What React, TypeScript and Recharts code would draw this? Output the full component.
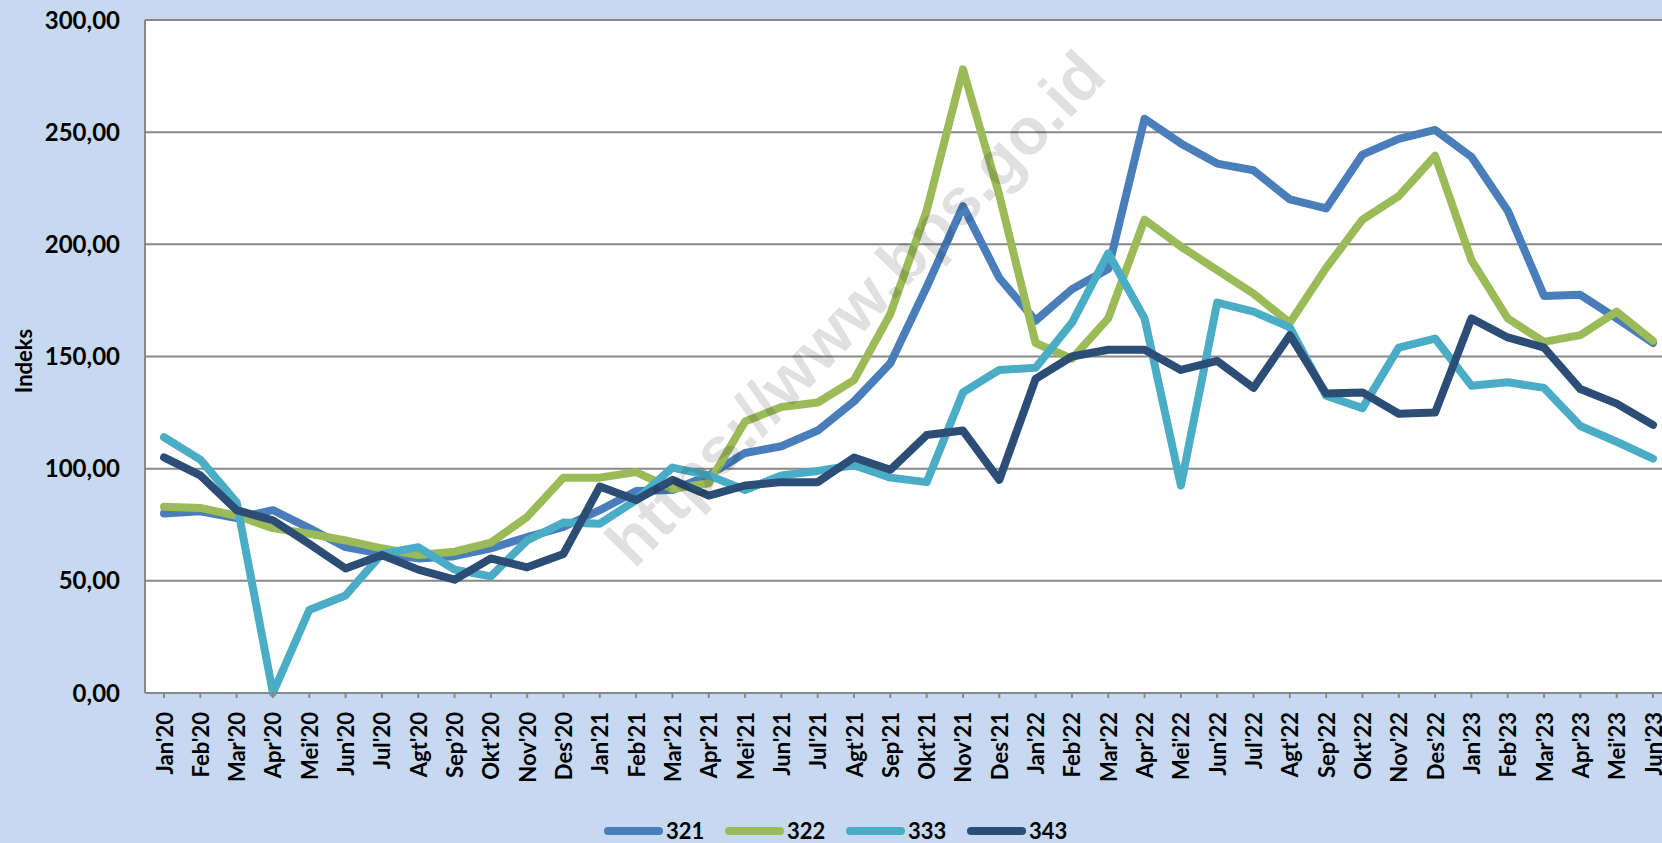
import React from 'react';
import { LineChart, Line, XAxis, YAxis, CartesianGrid } from 'recharts';

const months = [
  "Jan'20", "Feb'20", "Mar'20", "Apr'20", "Mei'20", "Jun'20", "Jul'20", "Agt'20", "Sep'20", "Okt'20", "Nov'20", "Des'20",
  "Jan'21", "Feb'21", "Mar'21", "Apr'21", "Mei'21", "Jun'21", "Jul'21", "Agt'21", "Sep'21", "Okt'21", "Nov'21", "Des'21",
  "Jan'22", "Feb'22", "Mar'22", "Apr'22", "Mei'22", "Jun'22", "Jul'22", "Agt'22", "Sep'22", "Okt'22", "Nov'22", "Des'22",
  "Jan'23", "Feb'23", "Mar'23", "Apr'23", "Mei'23", "Jun'23",
];

const s321 = [80, 81, 78, 81.5, 73.5, 65, 62, 60, 61, 64.5, 69.5, 74, 81.5, 90, 90.5, 97, 107, 110, 117, 130, 147, 181, 217, 185, 166, 180, 189, 256, 245, 236, 233, 220, 216, 240, 247, 251, 239, 215, 177, 177.5, 167, 156];
const s322 = [83, 82.5, 79, 73.5, 71, 68, 64.5, 61.5, 63, 67, 78.5, 96, 96, 98.5, 91, 93.5, 121, 127.5, 129.5, 139.5, 169, 215, 278, 222, 156, 149, 167, 211, 199, 188.5, 178, 165, 189.5, 211, 221.5, 239.5, 193, 167, 156.5, 159.5, 170, 157];
const s333 = [114, 104, 85, 0, 37, 43.5, 62, 65, 55, 52, 68, 76, 75.5, 86, 100.5, 97, 90.5, 97, 99, 101.5, 96, 94, 134, 144, 145, 165, 196, 167, 92.5, 174, 170, 163, 132.5, 127, 154, 158, 137, 138.5, 136, 119, 112, 104.5];
const s343 = [105, 97, 81.5, 77, 66.5, 55.5, 61.5, 55, 50.5, 60, 56, 62, 92, 86, 95, 88, 92.5, 94, 94, 105, 99.5, 115, 117, 95, 140, 150, 153, 153, 144, 148, 136, 159.5, 133.5, 134, 124.5, 125, 167, 158.5, 154, 135.5, 129, 119.5];

const yTicks = [0, 50, 100, 150, 200, 250, 300];

const seriesNames = ['321', '322', '333', '343'];
const seriesColors = ['#4A7EBB', '#9BBB59', '#4BACC6', '#2C4D75'];
const seriesValues = [s321, s322, s333, s343];

const data = months.map((m, i) => {
  const row: Record<string, string | number> = { month: m };
  seriesNames.forEach((n, k) => {
    row[n] = seriesValues[k][i];
  });
  return row;
});

const FONT = 'Lato, "Open Sans", sans-serif';

const XTick = (props: any) => {
  const { x, y, payload } = props;
  return (
    <text
      x={x}
      y={y}
      transform={`rotate(-90, ${x}, ${y})`}
      textAnchor="end"
      dominantBaseline="central"
      fill="#000"
      fontSize={22}
      fontWeight={700}
      fontFamily={FONT}
    >
      {payload.value}
    </text>
  );
};

const fmt = (v: number) => v.toFixed(2).replace('.', ',');

export default function App() {
  return (
    <div
      style={{
        position: 'absolute',
        left: 0,
        top: 0,
        width: 1662,
        height: 843,
        overflow: 'hidden',
        background: '#C6D9F0',
      }}
    >
      <LineChart
        width={1680}
        height={843}
        data={data}
        margin={{ top: 20, right: 9, bottom: 0, left: 0 }}
      >
        <CartesianGrid vertical={false} stroke="#888" strokeWidth={2} fill="#fff" />
        <XAxis
          dataKey="month"
          interval={0}
          height={150}
          padding={{ left: 19, right: 18 }}
          axisLine={{ stroke: '#888', strokeWidth: 2 }}
          tickLine={{ stroke: '#888', strokeWidth: 2 }}
          tickSize={5}
          tickMargin={14}
          tick={<XTick />}
        />
        <YAxis
          width={145}
          domain={[0, 300]}
          ticks={yTicks}
          interval={0}
          tickFormatter={fmt}
          axisLine={{ stroke: '#888', strokeWidth: 2 }}
          tickLine={false}
          tickSize={0}
          tickMargin={25}
          tick={{ fill: '#000', fontSize: 24, fontWeight: 700, fontFamily: FONT }}
        />
        {seriesNames.map((n, k) => (
          <Line
            key={n}
            type="linear"
            dataKey={n}
            stroke={seriesColors[k]}
            strokeWidth={8}
            strokeLinecap="round"
            strokeLinejoin="round"
            dot={false}
            activeDot={false}
            isAnimationActive={false}
          />
        ))}
      </LineChart>

      <div
        style={{
          position: 'absolute',
          left: 23,
          top: 361,
          transform: 'translate(-50%, -50%) rotate(-90deg)',
          fontFamily: FONT,
          fontWeight: 700,
          fontSize: 22,
          color: '#000',
          whiteSpace: 'nowrap',
        }}
      >
        Indeks
      </div>

      <div
        style={{
          position: 'absolute',
          left: 855,
          top: 308,
          transform: 'translate(-50%, -50%) rotate(-46deg)',
          fontFamily: '"Liberation Sans", Arial, sans-serif',
          fontWeight: 700,
          fontSize: 66,
          color: 'rgba(0,0,0,0.12)',
          whiteSpace: 'nowrap',
          pointerEvents: 'none',
        }}
      >
        https://www.bps.go.id
      </div>

      {seriesNames.map((n, k) => (
        <div
          key={n}
          style={{
            position: 'absolute',
            left: 604 + k * 121,
            top: 821,
            height: 20,
            display: 'flex',
            alignItems: 'center',
          }}
        >
          <div
            style={{
              width: 59,
              height: 8,
              borderRadius: 4,
              background: seriesColors[k],
            }}
          />
          <span
            style={{
              marginLeft: 3,
              fontFamily: FONT,
              fontWeight: 700,
              fontSize: 22,
              lineHeight: '20px',
              color: '#000',
            }}
          >
            {n}
          </span>
        </div>
      ))}
    </div>
  );
}
